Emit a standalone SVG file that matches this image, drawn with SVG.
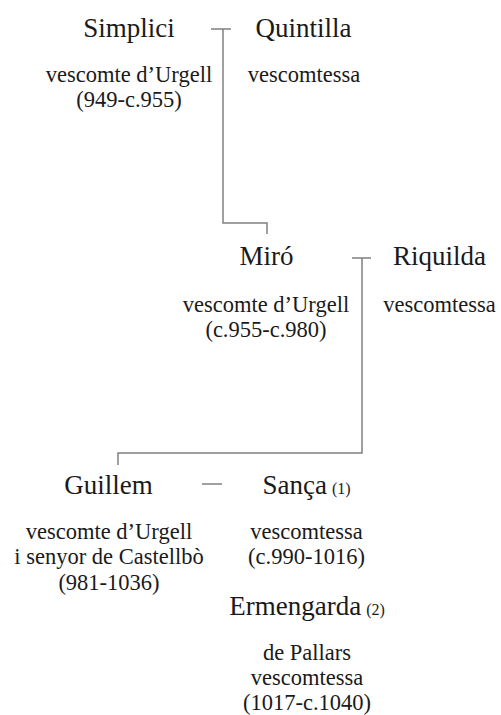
<svg xmlns="http://www.w3.org/2000/svg" width="501" height="715" viewBox="0 0 501 715">
<style>
.n{font-family:"Liberation Serif",serif;font-size:27px;fill:#1a1a1a;text-anchor:middle}
.b{font-family:"Liberation Serif",serif;font-size:22.5px;fill:#1a1a1a;text-anchor:middle}
.s{font-size:16px}
.c{fill:none;stroke:#808080;stroke-width:1.5}
</style>
<rect width="501" height="715" fill="#fff"/>
<g id="connectors">
<path class="c" d="M211,29H231M223,29V223H267V234"/>
<path class="c" d="M352,258H371M362,258V453H118V465"/>
<path class="c" d="M202,484H222"/>
</g>
<g id="simplici">
<text class="n" x="129" y="37">Simplici</text>
<text class="b" x="129" y="82">vescomte d’Urgell</text>
<text class="b" x="129" y="107">(949-c.955)</text>
</g>
<g id="quintilla">
<text class="n" x="303.5" y="37">Quintilla</text>
<text class="b" x="304" y="82">vescomtessa</text>
</g>
<g id="miro">
<text class="n" x="266.5" y="265">Miró</text>
<text class="b" x="266" y="312">vescomte d’Urgell</text>
<text class="b" x="266" y="337">(c.955-c.980)</text>
</g>
<g id="riquilda">
<text class="n" x="439.5" y="265">Riquilda</text>
<text class="b" x="439.5" y="312">vescomtessa</text>
</g>
<g id="guillem">
<text class="n" x="108.5" y="494">Guillem</text>
<text class="b" x="109" y="539">vescomte d’Urgell</text>
<text class="b" x="109" y="564">i senyor de Castellbò</text>
<text class="b" x="109" y="590">(981-1036)</text>
</g>
<g id="sanca">
<text class="n" x="306.5" y="494">Sança<tspan class="s" dx="5">(1)</tspan></text>
<text class="b" x="306.5" y="539">vescomtessa</text>
<text class="b" x="306.5" y="564">(c.990-1016)</text>
</g>
<g id="ermengarda">
<text class="n" x="307" y="615">Ermengarda<tspan class="s" dx="5">(2)</tspan></text>
<text class="b" x="307" y="660">de Pallars</text>
<text class="b" x="307" y="685">vescomtessa</text>
<text class="b" x="307" y="710">(1017-c.1040)</text>
</g>
</svg>
